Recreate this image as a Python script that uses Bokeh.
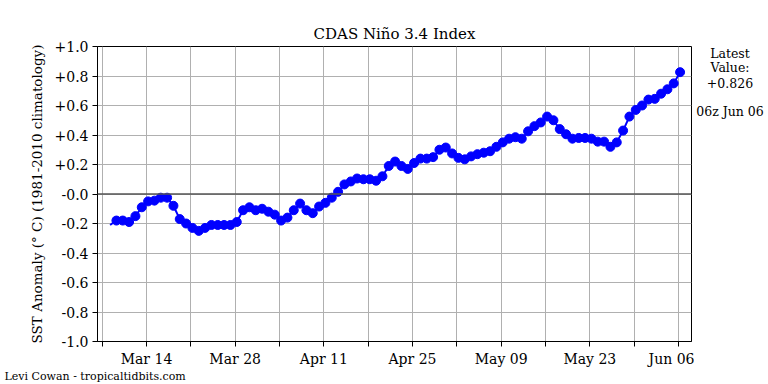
import pandas as pd
from bokeh.plotting import figure
from bokeh.layouts import row
from bokeh.models import (FixedTicker, DatetimeTickFormatter, Range1d, Span, Label, Title)
from bokeh.embed import file_html
from bokeh.resources import INLINE

# ---- data ----
start_time = "2024-03-08 06:00"
end_time = "2024-06-06 06:00"
sst_anomaly = [-0.21, -0.18, -0.18, -0.19, -0.15, -0.09, -0.05, -0.045, -0.025, -0.025,
               -0.08, -0.17, -0.20, -0.23, -0.25, -0.23, -0.21, -0.21, -0.21, -0.21,
               -0.19, -0.11, -0.09, -0.11, -0.10, -0.12, -0.14, -0.18, -0.16, -0.11,
               -0.065, -0.11, -0.13, -0.085, -0.06, -0.025, 0.015, 0.065, 0.085, 0.105,
               0.10, 0.10, 0.09, 0.12, 0.19, 0.22, 0.19, 0.17, 0.21, 0.24,
               0.24, 0.25, 0.30, 0.315, 0.275, 0.245, 0.235, 0.255, 0.27, 0.28,
               0.29, 0.32, 0.35, 0.375, 0.385, 0.375, 0.425, 0.46, 0.485, 0.525,
               0.50, 0.44, 0.405, 0.375, 0.38, 0.38, 0.375, 0.355, 0.355, 0.32,
               0.35, 0.43, 0.525, 0.57, 0.60, 0.64, 0.645, 0.68, 0.71, 0.75, 0.826]
major_dates = ["2024-03-14", "2024-03-28", "2024-04-11", "2024-04-25",
               "2024-05-09", "2024-05-23", "2024-06-06"]
minor_dates = ["2024-03-07", "2024-03-21", "2024-04-04", "2024-04-18",
               "2024-05-02", "2024-05-16", "2024-05-30"]
y_ticks = [-1.0, -0.8, -0.6, -0.4, -0.2, 0.0, 0.2, 0.4, 0.6, 0.8, 1.0]
y_tick_labels = ["-1.0", "-0.8", "-0.6", "-0.4", "-0.2", "-0.0",
                 "+0.2", "+0.4", "+0.6", "+0.8", "+1.0"]
x_start = "2024-03-06 06:15"
x_end = "2024-06-08 01:15"
title_text = "CDAS Niño 3.4 Index"
ylabel_text = "SST Anomaly (° C) (1981-2010 climatology)"
latest_lines = ["Latest", "Value:", "+0.826", "06z Jun 06"]
credit_text = "Levi Cowan - tropicaltidbits.com"

times = pd.date_range(start_time, end_time, freq="D")
FONT = "DejaVu Serif"
MAIN_W = 694
SIDE_W = 768 - MAIN_W
H = 384
F_TOP, F_BOT = 46, 341

def ms(s):
    return pd.Timestamp(s).value / 1e6

p = figure(width=MAIN_W, height=H, x_axis_type="datetime",
           output_backend="svg", toolbar_location=None,
           x_range=Range1d(ms(x_start), ms(x_end)), y_range=Range1d(-1.0, 1.0),
           min_border_left=97, min_border_right=MAIN_W - 691,
           min_border_top=F_TOP, min_border_bottom=H - F_BOT)
p.background_fill_color = "white"
p.border_fill_color = "white"
p.outline_line_color = "black"
p.outline_line_width = 1

p.title.text = title_text
p.title.align = "center"
p.title.text_font = FONT
p.title.text_font_size = "15px"
p.title.text_font_style = "normal"
p.title.text_color = "black"
p.title.standoff = 7

# ticks
p.xaxis.ticker = FixedTicker(ticks=[ms(d) for d in major_dates],
                             minor_ticks=[ms(d) for d in minor_dates])
fmt = "%b %d"
p.xaxis.formatter = DatetimeTickFormatter(microseconds=fmt, milliseconds=fmt, seconds=fmt,
                                          minsec=fmt, minutes=fmt, hourmin=fmt, hours=fmt,
                                          days=fmt, months=fmt, years=fmt)
p.yaxis.ticker = FixedTicker(ticks=y_ticks)
p.yaxis.major_label_overrides = {t: l for t, l in zip(y_ticks, y_tick_labels)}

for ax in (p.xaxis[0], p.yaxis[0]):
    ax.major_tick_out = 5
    ax.major_tick_in = 0
    ax.minor_tick_out = 5
    ax.minor_tick_in = 0
    ax.major_tick_line_color = "black"
    ax.minor_tick_line_color = "black"
    ax.axis_line_color = "black"
    ax.major_label_text_font = FONT
    ax.major_label_text_font_size = "14px"
    ax.major_label_text_color = "black"
    ax.major_label_standoff = 4
p.yaxis.minor_tick_out = 0
p.xaxis.axis_label_standoff = 0
p.xaxis.major_label_text_line_height = 0.8

p.yaxis.axis_label = ylabel_text
p.yaxis.axis_label_text_font = FONT
p.yaxis.axis_label_text_font_style = "normal"
p.yaxis.axis_label_text_font_size = "13.5px"
p.yaxis.axis_label_text_color = "black"
p.yaxis.axis_label_standoff = 7

# grid
p.xgrid.ticker = FixedTicker(ticks=sorted([ms(d) for d in major_dates + minor_dates]))
p.ygrid.ticker = FixedTicker(ticks=y_ticks)
for g in (p.xgrid[0], p.ygrid[0]):
    g.grid_line_color = "#b0b0b0"
    g.grid_line_width = 1

p.add_layout(Span(location=0, dimension="width", line_color="#555555", line_width=1.5))

# data
p.line(times, sst_anomaly, line_color="#0000ff", line_width=2)
p.scatter(times[1:], sst_anomaly[1:], size=9, fill_color="#0000ff", line_color="#0000ff")

# credit below the axis
p.add_layout(Title(text=credit_text, align="left", offset=4 - 97, standoff=0,
                   vertical_align="top", text_line_height=1.0,
                   text_font=FONT, text_font_size="11px", text_font_style="normal",
                   text_color="black"), "below")

# side panel with latest value (frame aligned with main frame: screen y = data y)
side = figure(width=SIDE_W, height=H, output_backend="svg", toolbar_location=None,
              x_range=Range1d(MAIN_W, 768), y_range=Range1d(F_BOT, F_TOP),
              min_border_left=0, min_border_right=0,
              min_border_top=F_TOP, min_border_bottom=H - F_BOT)
side.axis.visible = False
side.grid.visible = False
side.outline_line_color = None
side.background_fill_color = "white"
side.border_fill_color = "white"
for t, yy in zip(latest_lines, [53, 67, 82, 111]):
    side.add_layout(Label(x=729.5, y=yy, text=t, text_font=FONT, text_font_size="12.5px",
                          text_align="center", text_baseline="middle", text_color="black"))

layout = row(p, side, spacing=0)
open("out.html", "w").write(file_html(layout, INLINE))
